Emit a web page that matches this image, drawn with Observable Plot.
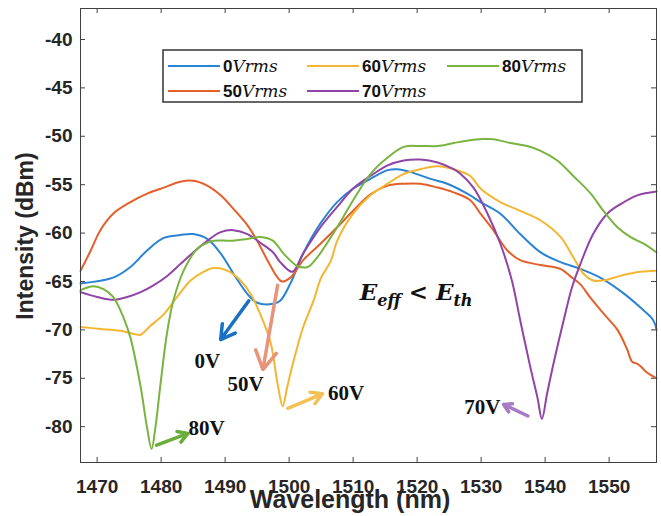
<!DOCTYPE html>
<html><head><meta charset="utf-8">
<script src="https://cdn.jsdelivr.net/npm/d3@7"></script>
<script src="https://cdn.jsdelivr.net/npm/@observablehq/plot@0.6"></script>
<style>body{margin:0;background:#fff}</style>
</head><body><div id="chart"></div>
<script>
// ---- data (wavelength nm, intensity dBm) ----
const s0V = [[1467.4,-65.2],[1472.5,-64.6],[1475.2,-63.5],[1477.8,-61.8],[1480.4,-60.5],[1483.0,-60.2],[1485.0,-60.1],[1487.2,-60.6],[1489.3,-62.1],[1491.3,-64.2],[1493.5,-66.3],[1495.0,-67.2],[1497.5,-67.3],[1498.6,-67.0],[1500.2,-65.2],[1502.2,-62.1],[1504.9,-59.0],[1507.5,-56.8],[1510.0,-55.4],[1512.7,-54.4],[1515.4,-53.5],[1516.9,-53.4],[1519.0,-53.7],[1522.1,-54.4],[1524.7,-54.9],[1528.3,-56.1],[1529.9,-56.8],[1533.0,-58.0],[1536.1,-60.1],[1539.3,-62.0],[1542.4,-63.0],[1545.5,-63.7],[1548.6,-64.6],[1551.8,-66.0],[1554.9,-67.7],[1556.9,-69.0],[1557.4,-70.0]];
const s50V = [[1467.4,-63.9],[1469.0,-61.8],[1470.5,-59.7],[1472.5,-58.0],[1475.2,-56.8],[1477.9,-55.9],[1480.4,-55.3],[1483.0,-54.7],[1485.0,-54.6],[1487.2,-55.1],[1489.3,-56.1],[1491.3,-57.5],[1493.5,-59.2],[1495.0,-60.8],[1496.6,-62.8],[1498.2,-64.6],[1498.9,-65.0],[1500.2,-64.6],[1502.2,-62.8],[1504.9,-61.1],[1507.5,-59.4],[1510.0,-57.7],[1512.7,-56.0],[1515.4,-55.1],[1517.9,-54.9],[1520.5,-54.9],[1523.2,-55.3],[1525.7,-55.8],[1528.3,-56.6],[1529.9,-58.0],[1531.9,-59.7],[1534.1,-61.8],[1536.1,-62.8],[1539.3,-63.3],[1542.4,-63.7],[1544.0,-64.5],[1545.5,-65.3],[1547.1,-66.7],[1549.1,-68.3],[1551.3,-70.0],[1552.8,-72.0],[1553.6,-73.3],[1554.4,-73.5],[1555.0,-73.8],[1555.7,-74.3],[1557.4,-75.0]];
const s60V = [[1467.4,-69.7],[1470.5,-69.9],[1473.6,-70.1],[1476.3,-70.5],[1476.8,-70.5],[1478.3,-69.6],[1480.4,-68.4],[1482.5,-66.6],[1484.6,-64.9],[1486.6,-64.0],[1488.2,-63.6],[1490.4,-63.9],[1492.4,-64.9],[1494.0,-66.3],[1495.5,-68.4],[1497.1,-71.3],[1498.2,-75.6],[1499.0,-77.9],[1499.7,-75.9],[1500.7,-73.2],[1502.2,-69.7],[1503.8,-67.0],[1505.0,-64.6],[1506.5,-62.9],[1507.5,-60.8],[1510.0,-58.0],[1512.7,-56.1],[1515.4,-54.9],[1517.9,-53.9],[1520.5,-53.4],[1523.2,-53.1],[1525.7,-53.4],[1528.3,-54.1],[1529.9,-55.4],[1533.0,-56.8],[1536.1,-57.7],[1539.3,-58.7],[1542.4,-60.4],[1544.4,-62.5],[1546.0,-64.2],[1547.5,-64.9],[1549.1,-64.9],[1551.8,-64.4],[1554.9,-64.0],[1557.4,-63.9]];
const s70V = [[1467.4,-66.1],[1470.0,-66.6],[1472.5,-66.9],[1474.7,-66.6],[1476.8,-66.1],[1478.8,-65.4],[1481.0,-64.4],[1483.0,-63.2],[1485.0,-62.0],[1487.2,-60.8],[1489.3,-59.9],[1491.3,-59.7],[1493.5,-60.1],[1495.5,-61.0],[1497.5,-62.0],[1498.6,-63.0],[1500.5,-64.0],[1502.2,-62.1],[1504.9,-59.4],[1507.5,-57.3],[1510.0,-55.4],[1512.7,-54.1],[1515.4,-53.0],[1517.9,-52.5],[1520.5,-52.4],[1523.2,-52.7],[1525.7,-53.4],[1526.8,-53.9],[1528.8,-55.3],[1531.0,-58.0],[1533.0,-61.1],[1534.8,-64.9],[1536.1,-69.0],[1537.7,-73.9],[1538.8,-77.0],[1539.5,-79.2],[1540.3,-76.6],[1541.3,-73.5],[1542.9,-69.0],[1544.2,-65.6],[1545.5,-63.2],[1547.5,-60.1],[1549.7,-58.0],[1551.8,-57.0],[1554.4,-56.1],[1557.4,-55.7]];
const s80V = [[1467.4,-65.9],[1469.4,-65.5],[1471.0,-65.8],[1472.5,-66.6],[1474.1,-68.7],[1475.2,-70.8],[1476.8,-75.9],[1477.8,-80.1],[1478.5,-82.3],[1479.1,-80.1],[1479.9,-75.6],[1480.9,-70.4],[1481.9,-67.0],[1483.5,-63.9],[1485.7,-61.6],[1488.2,-60.8],[1490.8,-60.8],[1493.5,-60.6],[1495.5,-60.4],[1497.5,-60.8],[1499.1,-62.1],[1501.3,-63.4],[1502.9,-63.5],[1504.4,-62.5],[1507.5,-59.4],[1510.0,-56.6],[1512.7,-53.9],[1515.4,-52.2],[1517.9,-51.1],[1520.5,-51.0],[1523.2,-51.0],[1525.7,-50.7],[1528.3,-50.4],[1529.9,-50.3],[1531.9,-50.3],[1534.6,-50.7],[1537.2,-51.0],[1539.3,-51.5],[1541.9,-52.5],[1544.4,-54.1],[1547.1,-55.9],[1549.1,-57.7],[1551.3,-59.4],[1553.3,-60.4],[1555.4,-61.1],[1557.4,-62.0]];

const seriesNames = ["0", "50", "60", "70", "80"];
const seriesData = [s0V, s50V, s60V, s70V, s80V];
const seriesColors = ["#2a84d2", "#e3602b", "#f3b632", "#9044a6", "#79b440"];
const legendOrder = ["0", "60", "80", "50", "70"];

const xTicks = [1470, 1480, 1490, 1500, 1510, 1520, 1530, 1540, 1550];
const yTicks = [-40, -45, -50, -55, -60, -65, -70, -75, -80];
const xDomain = [1467.4, 1557.4];
const yDomain = [-83.7, -36.8];

// annotations: label, label position, arrow tail, arrow head, arrow colour
const annLabels = ["0V", "50V", "60V", "70V", "80V"];
const annTextX = [1487.2, 1493.2, 1508.9, 1530.2, 1487.1];
const annTextY = [-73.2, -75.6, -76.5, -78.0, -80.2];
const arrowX1 = [1493.7, 1498.2, 1499.8, 1537.3, 1479.3];
const arrowY1 = [-67.0, -65.4, -78.1, -78.9, -81.9];
const arrowX2 = [1489.3, 1495.9, 1505.2, 1533.5, 1484.2];
const arrowY2 = [-71.0, -74.1, -76.6, -77.7, -80.7];
const arrowColors = ["#1a70c2", "#e9937a", "#f3c154", "#a87cc4", "#6aad3a"];

const formulaPos = [1511.1, -67.0];

// ---- build ----
const lineRows = seriesData.flatMap((s, i) => s.map(([w, v]) => ({w, v, name: seriesNames[i]})));
const annRows = annLabels.map((t, i) => ({t, x: annTextX[i], y: annTextY[i], x1: arrowX1[i], y1: arrowY1[i], x2: arrowX2[i], y2: arrowY2[i], c: arrowColors[i]}));

const axisColor = "#404040";
const tickLenY = 0.52, tickLenX = 0.78;

const plot = Plot.plot({
  width: 661, height: 516,
  marginLeft: 80, marginRight: 5, marginTop: 8, marginBottom: 54,
  x: {domain: xDomain, label: null},
  y: {domain: yDomain, label: null},
  color: {domain: seriesNames, range: seriesColors},
  style: {fontFamily: "'Liberation Sans', Arial, sans-serif", background: "#fff", color: "#262626"},
  marks: [
    Plot.ruleX(xTicks, {y1: yDomain[0], y2: yDomain[0] + tickLenY, stroke: axisColor}),
    Plot.ruleX(xTicks, {y1: yDomain[1], y2: yDomain[1] - tickLenY, stroke: axisColor}),
    Plot.ruleY(yTicks, {x1: xDomain[0], x2: xDomain[0] + tickLenX, stroke: axisColor}),
    Plot.ruleY(yTicks, {x1: xDomain[1], x2: xDomain[1] - tickLenX, stroke: axisColor}),
    Plot.axisX(xTicks, {tickSize: 0, tickPadding: 17, fontSize: 19, fontWeight: "bold", fill: "#262626", label: null, tickFormat: d => String(d)}),
    Plot.axisY(yTicks, {tickSize: 0, tickPadding: 8, fontSize: 19, fontWeight: "bold", fill: "#262626", label: null, tickFormat: d => String(d)}),
    Plot.line(lineRows, {x: "w", y: "v", z: "name", stroke: "name", strokeWidth: 2, curve: "catmull-rom"}),
    Plot.arrow(annRows, {x1: "x1", y1: "y1", x2: "x2", y2: "y2", stroke: "c", strokeWidth: 3.5, headLength: 9}),
    Plot.text(annRows, {x: "x", y: "y", text: "t", fontSize: 21, fontWeight: "bold", fontFamily: "'Liberation Serif', 'Times New Roman', serif", fill: "#111"}),
    Plot.frame({stroke: axisColor, strokeWidth: 1})
  ]
});
document.getElementById("chart").appendChild(plot);

const svg = d3.select(plot);
const sx = plot.scale("x"), sy = plot.scale("y");

// formula annotation
const f = svg.append("text")
  .attr("x", sx.apply(formulaPos[0])).attr("y", sy.apply(formulaPos[1]))
  .attr("text-anchor", "start")
  .attr("font-family", "'DejaVu Serif', serif").attr("font-style", "italic").attr("font-weight", "bold")
  .attr("font-size", 23).attr("fill", "#111");
f.append("tspan").text("E");
f.append("tspan").attr("font-size", 16).attr("dy", 6).text("eff");
f.append("tspan").attr("dy", -6).text(" < ");
f.append("tspan").text("E");
f.append("tspan").attr("font-size", 16).attr("dy", 6).text("th");

// axis titles
svg.append("text").attr("transform", "translate(25,236) rotate(-90)")
  .attr("text-anchor", "middle").attr("dominant-baseline", "central")
  .attr("font-family", "'Liberation Sans', Arial, sans-serif").attr("font-weight", "bold")
  .attr("font-size", 23).attr("fill", "#262626").text("Intensity (dBm)");
svg.append("text").attr("x", 350).attr("y", 508)
  .attr("text-anchor", "middle")
  .attr("font-family", "'Liberation Sans', Arial, sans-serif").attr("font-weight", "bold")
  .attr("font-size", 25).attr("fill", "#262626").text("Wavelength (nm)");

// legend
const lg = svg.append("g");
lg.append("rect").attr("x", 163).attr("y", 50).attr("width", 419).attr("height", 52)
  .attr("fill", "#fff").attr("stroke", "#333").attr("stroke-width", 1.5);
const colX = [168, 307, 447], rowY = [66, 91];
legendOrder.forEach((name, k) => {
  const col = k % 3, row = Math.floor(k / 3);
  const c = seriesColors[seriesNames.indexOf(name)];
  const x0 = colX[col], y0 = rowY[row];
  lg.append("line").attr("x1", x0).attr("x2", x0 + 52).attr("y1", y0).attr("y2", y0)
    .attr("stroke", c).attr("stroke-width", 2);
  const t = lg.append("text").attr("x", x0 + 55).attr("y", y0 + 6).attr("text-anchor", "start")
    .attr("fill", "#111").attr("font-size", 17);
  t.append("tspan").attr("font-family", "'Liberation Sans', Arial, sans-serif").attr("font-weight", "bold").text(name);
  t.append("tspan").attr("font-family", "'DejaVu Serif', serif").attr("font-style", "italic").text("Vrms");
});
</script>
</body></html>
